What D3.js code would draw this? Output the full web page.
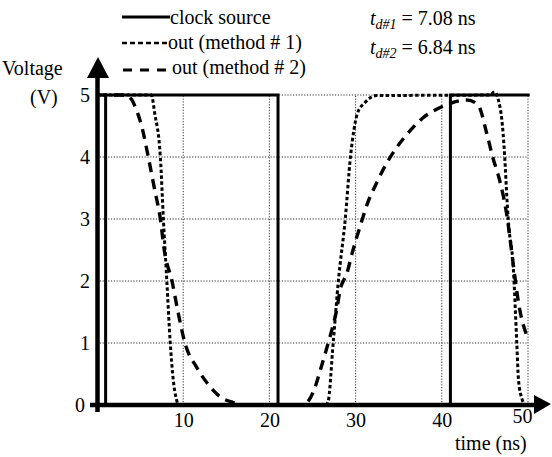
<!DOCTYPE html>
<html><head><meta charset="utf-8">
<script src="https://cdn.jsdelivr.net/npm/d3@7"></script>
</head>
<body style="margin:0;background:#fff"><svg id="c" width="552" height="457"></svg>
<script>
// ---- data ----
const xTicks = [10, 20, 30, 40, 50];
const yTicks = [0, 1, 2, 3, 4, 5];
const clockT = [0, 1, 1, 21, 21, 41, 41, 50.2];
const clockV = [0, 0, 5, 5, 0, 0, 5, 5];
const m1T = [0, 6.3, 6.7, 7.35, 7.7, 8.1, 8.5, 8.85, 9.2, 9.5, 26.5, 26.8, 27.4, 28.0, 28.8, 29.4, 29.8, 30.2, 31.1, 32.4, 45.6, 46.1, 46.5, 47.1, 47.3, 47.5, 47.7, 48.3, 48.7, 48.9, 49.3, 49.6];
const m1V = [5, 5, 4.7, 4.0, 3.0, 2.0, 1.0, 0.4, 0.1, 0, 0, 0.05, 1.0, 2.0, 3.0, 4.0, 4.43, 4.7, 4.88, 4.99, 5, 5.05, 4.95, 4.4, 4.0, 3.47, 3.0, 2.2, 1.0, 0.4, 0.1, 0];
const m2T = [0, 3.3, 4.0, 4.6, 5.2, 5.95, 6.65, 7.35, 7.8, 8.7, 9.4, 10.2, 11.6, 12.8, 14.3, 15.8, 17.2, 23.8, 24.6, 25.2, 25.9, 26.7, 27.3, 27.8, 28.2, 29.0, 29.7, 30.5, 31.4, 32.5, 33.6, 34.8, 36.3, 37.8, 39.4, 40.9, 42.9, 44.2, 45.2, 45.9, 46.7, 47.5, 48.4, 48.9, 49.9];
const m2V = [5, 5, 4.93, 4.75, 4.49, 4.0, 3.5, 3.0, 2.5, 2.0, 1.5, 1.0, 0.6, 0.35, 0.13, 0.04, 0, 0, 0.08, 0.25, 0.56, 0.94, 1.24, 1.53, 1.85, 2.13, 2.5, 2.87, 3.26, 3.6, 3.9, 4.16, 4.42, 4.63, 4.77, 4.86, 4.92, 4.84, 4.39, 4.0, 3.63, 3.1, 2.15, 1.65, 1.1];
const legendLabels = ["clock source", "out (method # 1)", "out (method # 2)"];
const delayNames = ["d#1", "d#2"];
const delayValues = ["7.08 ns", "6.84 ns"];

// ---- chart ----
const SERIF = "Liberation Serif";
const svg = d3.select("#c");
const x = d3.scaleLinear().domain([0, 50]).range([97, 528]);
const y = d3.scaleLinear().domain([0, 5]).range([405, 95]);
const FS = 20;

// grid
const grid = svg.append("g").attr("stroke", "#333").attr("stroke-width", 1).attr("stroke-dasharray", "1.2,1.6");
grid.selectAll("line.v").data(xTicks).join("line")
  .attr("x1", d => x(d)).attr("x2", d => x(d)).attr("y1", y(0)).attr("y2", y(5));
grid.selectAll("line.h").data(yTicks.filter(d => d > 0)).join("line")
  .attr("x1", x(0)).attr("x2", x(50)).attr("y1", d => y(d)).attr("y2", d => y(d));

const lineGen = (T, V, curve) => d3.line().x(d => x(d[0])).y(d => y(d[1])).curve(curve)(T.map((t, i) => [t, V[i]]));

// curves
svg.append("path").attr("d", lineGen(m2T, m2V, d3.curveMonotoneX))
  .attr("fill", "none").attr("stroke", "#000").attr("stroke-width", 3.4).attr("stroke-dasharray", "10,7");
svg.append("path").attr("d", lineGen(m1T, m1V, d3.curveMonotoneX))
  .attr("fill", "none").attr("stroke", "#000").attr("stroke-width", 3).attr("stroke-dasharray", "3.5,2.4");
svg.append("path").attr("d", lineGen(clockT, clockV, d3.curveLinear))
  .attr("fill", "none").attr("stroke", "#000").attr("stroke-width", 3);

// axes lines
svg.append("line").attr("x1", 97.5).attr("x2", 97.5).attr("y1", 412).attr("y2", 74)
  .attr("stroke", "#000").attr("stroke-width", 4.5);
svg.append("path").attr("d", "M98,57 L87,78 L109,78 Z").attr("fill", "#000");
svg.append("line").attr("x1", 90).attr("x2", 538).attr("y1", 405).attr("y2", 405)
  .attr("stroke", "#000").attr("stroke-width", 4.5);
svg.append("path").attr("d", "M551,404 L534,395 L534,414 Z").attr("fill", "#000");

// tick labels via d3 axes
const xa = svg.append("g").attr("transform", `translate(0,${y(0)})`)
  .call(d3.axisBottom(x).tickValues(xTicks).tickSize(0).tickPadding(8).tickFormat(d3.format("d")));
xa.select(".domain").remove();
xa.attr("font-family", null).attr("font-size", null);
xa.selectAll("text").attr("font-size", FS).style("font-family", SERIF).attr("fill", "#000");
xa.selectAll(".tick").filter(d => d === 50).select("text").attr("dx", -6).attr("dy", "0.5em");

const ya = svg.append("g").attr("transform", `translate(${x(0)},0)`)
  .call(d3.axisLeft(y).tickValues(yTicks).tickSize(0).tickPadding(7).tickFormat(d3.format("d")));
ya.select(".domain").remove();
ya.attr("font-family", null).attr("font-size", null);
ya.selectAll("text").attr("font-size", FS).style("font-family", SERIF).attr("fill", "#000");
ya.selectAll(".tick").filter(d => d === 0).select("text").attr("dx", -5);

// axis titles
const txt = (xx, yy, s) => svg.append("text").attr("x", xx).attr("y", yy)
  .attr("font-size", FS).style("font-family", SERIF).attr("fill", "#000").text(s);
txt(2, 75, "Voltage");
txt(30, 104, "(V)");
txt(455, 450, "time (ns)");

// legend
const legY = [24, 49, 74];
const legX = [170, 168, 172];
const legLine = [
  {x1: 122, x2: 170, dy: -7, w: 3.2, dash: null},
  {x1: 122, x2: 170, dy: -6, w: 2.6, dash: "5,3"},
  {x1: 123, x2: 166, dy: -4, w: 3.2, dash: "9,8"}
];
legendLabels.forEach((lab, i) => {
  const l = svg.append("line").attr("x1", legLine[i].x1).attr("x2", legLine[i].x2)
    .attr("y1", legY[i] + legLine[i].dy).attr("y2", legY[i] + legLine[i].dy)
    .attr("stroke", "#000").attr("stroke-width", legLine[i].w);
  if (legLine[i].dash) l.attr("stroke-dasharray", legLine[i].dash);
  txt(legX[i], legY[i], lab);
});

// delay annotations
const annY = [25, 54];
delayNames.forEach((nm, i) => {
  const t = svg.append("text").attr("x", 370).attr("y", annY[i])
    .attr("font-size", FS).style("font-family", SERIF).attr("fill", "#000");
  t.append("tspan").style("font-style", "italic").text("t");
  t.append("tspan").style("font-style", "italic").attr("font-size", 14).attr("dy", 4).text(nm);
  t.append("tspan").attr("dy", -4).text(" = " + delayValues[i]);
});
</script></body></html>
